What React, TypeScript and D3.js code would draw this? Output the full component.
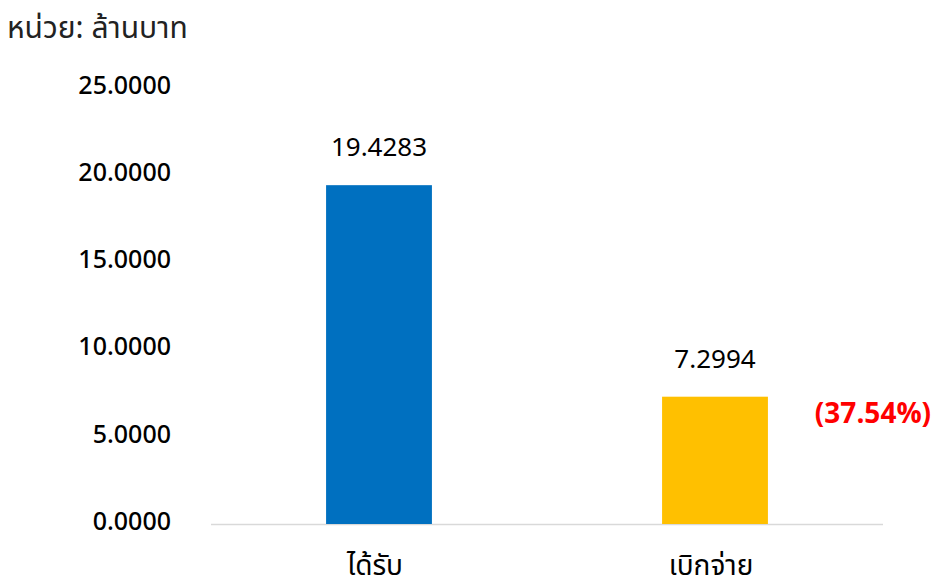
import React from "react";
import * as d3 from "d3";

const categories = ["ได้รับ", "เบิกจ่าย"];
const values = [19.4283, 7.2994];
const valueLabels = ["19.4283", "7.2994"];
const colors = ["#0070C0", "#FFC000"];
const yTicks = [0, 5, 10, 15, 20, 25];
const percentLabel = "(37.54%)";
const unitLabel = "หน่วย: ล้านบาท";

const W = 936;
const H = 587;
const FONT = "'Noto Sans Thai', 'Noto Sans', 'DejaVu Sans', sans-serif";

export default function App() {
  const x = d3.scaleBand<string>().domain(categories).range([211, 883]).paddingInner(0.685).paddingOuter(0.3425);
  const y = d3.scaleLinear().domain([0, 25]).range([524, 88]);

  return (
    <svg width={W} height={H} style={{ position: "absolute", left: 0, top: 0, background: "#fff" }} fontFamily={FONT}>
      <text x={7} y={38} fontSize={30} fill="#222">{unitLabel}</text>
      {yTicks.map((t) => (
        <text key={t} x={171} y={y(t) - 3} dy="0.35em" textAnchor="end" fontSize={25} fontWeight={500} fill="#000">
          {t.toFixed(4)}
        </text>
      ))}
      <line x1={211} x2={883} y1={y(0) + 0.5} y2={y(0) + 0.5} stroke="#D9D9D9" strokeWidth={1.5} />
      {categories.map((c, i) => (
        <g key={c}>
          <rect x={x(c)} y={y(values[i])} width={x.bandwidth()} height={y(0) - y(values[i])} fill={colors[i]} />
          <text x={(x(c) as number) + x.bandwidth() / 2} y={y(values[i]) - 38} dy="0.35em" textAnchor="middle" fontSize={26} fill="#000">
            {valueLabels[i]}
          </text>
          <text x={(x(c) as number) + x.bandwidth() / 2 - 4} y={575} textAnchor="middle" fontSize={28} fill="#000">
            {c}
          </text>
        </g>
      ))}
      <text x={873} y={413} dy="0.35em" textAnchor="middle" fontSize={28} fontWeight={700} fill="#FF0000">
        {percentLabel}
      </text>
    </svg>
  );
}
